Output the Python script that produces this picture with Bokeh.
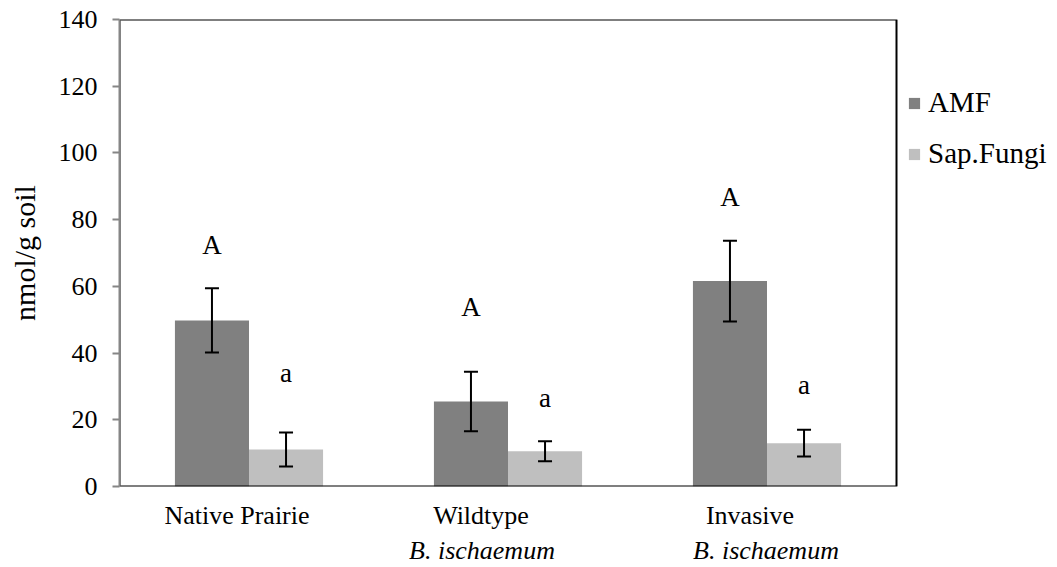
from bokeh.plotting import figure
from bokeh.models import (ColumnDataSource, Range1d, Whisker, TeeHead,
                          Legend, LegendItem, FixedTicker, LinearAxis,
                          CustomJSTickFormatter)
from bokeh.transform import dodge
from bokeh.embed import file_html
from bokeh.resources import INLINE
from bokeh.core.properties import value

categories = ["Native Prairie", "Wildtype", "Invasive"]
line1 = ["Native Prairie", "Wildtype", "Invasive"]
line2 = ["B. ischaemum", "B. ischaemum"]
amf = [49.8, 25.5, 61.6]
amf_err = [9.6, 8.9, 12.1]
sap = [11.1, 10.6, 13.0]
sap_err = [5.1, 3.0, 4.0]
amf_letter = ["A", "A", "A"]
amf_letter_y = [72.4, 53.8, 86.9]
sap_letter = ["a", "a", "a"]
sap_letter_y = [34.0, 26.4, 30.3]
y_ticks = [0, 20, 40, 60, 80, 100, 120, 140]

FONT = "Liberation Serif"
AMF_COLOR = "#808080"
SAP_COLOR = "#bfbfbf"

W, H = 1057, 567
LEFT, TOP, PLOT_RIGHT, BOTTOM = 119, 20, 896, 486
ncat = len(categories)
x_end = ncat * (W - LEFT) / (PLOT_RIGHT - LEFT)

xc = [i + 0.5 for i in range(ncat)]
src = ColumnDataSource(dict(
    x=xc, amf=amf, sap=sap,
    amf_lo=[v - e for v, e in zip(amf, amf_err)],
    amf_hi=[v + e for v, e in zip(amf, amf_err)],
    sap_lo=[v - e for v, e in zip(sap, sap_err)],
    sap_hi=[v + e for v, e in zip(sap, sap_err)],
    amf_ly=amf_letter_y, sap_ly=sap_letter_y,
    amf_lt=amf_letter, sap_lt=sap_letter,
))

p = figure(width=W, height=H, x_range=Range1d(0, x_end),
           y_range=Range1d(y_ticks[0], y_ticks[-1]), output_backend="svg",
           toolbar_location=None,
           min_border_left=LEFT, min_border_right=0, min_border_top=TOP - 1,
           min_border_bottom=H - BOTTOM)
p.xgrid.visible = False
p.ygrid.visible = False
p.outline_line_color = None
p.background_fill_color = "white"
p.border_fill_color = "white"

bw = 0.286
off = 0.143
r_amf = p.vbar(x=dodge("x", -off), top="amf", width=bw, source=src,
               fill_color=AMF_COLOR, line_color=None)
r_sap = p.vbar(x=dodge("x", off), top="sap", width=bw, source=src,
               fill_color=SAP_COLOR, line_color=None)

# plot-area border (data region 0..ncat x 0..140)
p.quad(left=[0], right=[ncat], bottom=[y_ticks[0]], top=[y_ticks[-1]],
       fill_color=None, line_color="black", line_width=2)

for base, lo, hi in [(-off, "amf_lo", "amf_hi"), (off, "sap_lo", "sap_hi")]:
    w = Whisker(base=dodge("x", base), lower=lo, upper=hi, source=src,
                line_color="black", line_width=2, level="overlay",
                upper_head=TeeHead(size=14, line_color="black", line_width=2),
                lower_head=TeeHead(size=14, line_color="black", line_width=2))
    p.add_layout(w)

p.text(x=dodge("x", -off), y="amf_ly", text="amf_lt", source=src,
       text_font=value(FONT), text_font_size="27px", text_align="center",
       text_baseline="middle", text_color="black")
p.text(x=dodge("x", off), y="sap_ly", text="sap_lt", source=src,
       text_font=value(FONT), text_font_size="27px", text_align="center",
       text_baseline="middle", text_color="black")

# y axis
ya = p.yaxis[0]
ya.ticker = FixedTicker(ticks=y_ticks)
ya.axis_line_color = "#868686"
ya.axis_line_width = 2
ya.major_tick_line_color = "#868686"
ya.major_tick_line_width = 2
ya.major_tick_out = 7
ya.major_tick_in = 0
ya.minor_tick_line_color = None
ya.major_label_text_font = FONT
ya.major_label_text_font_size = "26px"
ya.major_label_text_color = "black"
ya.major_label_standoff = 15
ya.axis_label = "nmol/g soil"
ya.axis_label_text_font = FONT
ya.axis_label_text_font_size = "30px"
ya.axis_label_text_font_style = "normal"
ya.axis_label_text_color = "black"
ya.axis_label_standoff = 15

# x axis: first label row
pos1 = [xc[0] - 12 / 259, xc[1] - 27 / 259, xc[2] - 17 / 259]
pos2 = [xc[1] - 26 / 259, xc[2] - 1 / 259]
xa = p.xaxis[0]
xa.axis_line_color = None
xa.major_tick_line_color = None
xa.minor_tick_line_color = None
xa.ticker = FixedTicker(ticks=pos1)
xa.formatter = CustomJSTickFormatter(args=dict(labels=line1), code="return labels[index]")
xa.major_label_text_font = FONT
xa.major_label_text_font_size = "26px"
xa.major_label_text_color = "black"
xa.major_label_standoff = 8

# second label row (italic)
ax2 = LinearAxis(ticker=FixedTicker(ticks=pos2),
                 formatter=CustomJSTickFormatter(args=dict(labels=line2),
                                                 code="return labels[index]"),
                 axis_line_color=None, major_tick_line_color=None,
                 minor_tick_line_color=None, major_label_text_font=FONT,
                 major_label_text_font_size="26px", major_label_text_color="black",
                 major_label_text_font_style="italic", major_label_standoff=-3)
p.add_layout(ax2, "below")

legend = Legend(items=[LegendItem(label="AMF", renderers=[r_amf]),
                       LegendItem(label="Sap.Fungi", renderers=[r_sap])],
                location=(788, 316), orientation="vertical",
                glyph_width=14, glyph_height=14, label_standoff=7, spacing=18,
                padding=0, margin=0, border_line_color=None, background_fill_alpha=0,
                label_text_font=FONT, label_text_font_size="29px", label_text_color="black")
p.add_layout(legend, "center")

open("out.html", "w").write(file_html(p, INLINE))
